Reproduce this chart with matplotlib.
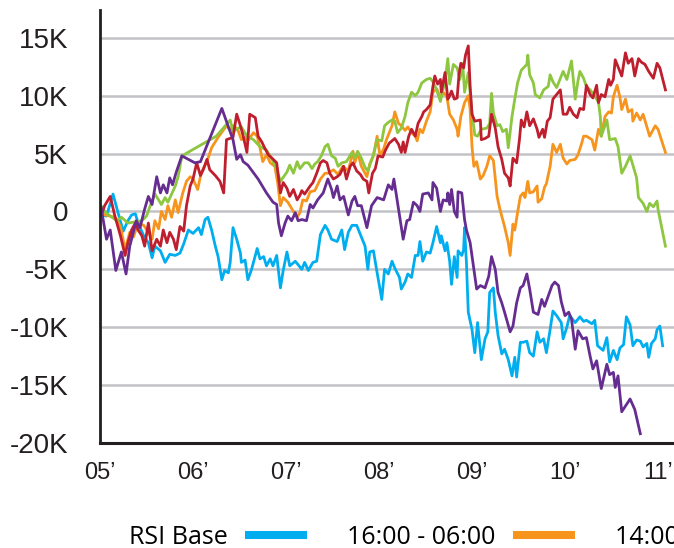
import matplotlib
matplotlib.use("Agg")
import matplotlib.pyplot as plt
from matplotlib.lines import Line2D

# ---------------- data (values in thousands) ----------------
year_ticks = [5, 6, 7, 8, 9, 10, 11]
year_labels = ["05\u2019", "06\u2019", "07\u2019", "08\u2019", "09\u2019", "10\u2019", "11\u2019"]
y_ticks = [-20, -15, -10, -5, 0, 5, 10, 15]
y_labels = ["-20K", "-15K", "-10K", "-5K", "0", "5K", "10K", "15K"]

legend_labels = ["RSI Base", "16:00 - 06:00", "14:00 - 16:00"]

t_cyan = [5.02, 5.07, 5.14, 5.19, 5.25, 5.30, 5.34, 5.38, 5.41, 5.47, 5.52, 5.56, 5.59, 5.65, 5.70,
          5.75, 5.81, 5.86, 5.90, 5.95, 6.00, 6.06, 6.09, 6.13, 6.16, 6.20, 6.24, 6.27, 6.31, 6.34,
          6.38, 6.40, 6.43, 6.47, 6.51, 6.52, 6.56, 6.59, 6.63, 6.69, 6.72, 6.76, 6.79, 6.83, 6.86,
          6.90, 6.94, 6.97, 7.01, 7.04, 7.10, 7.17, 7.20, 7.24, 7.29, 7.33, 7.37, 7.42, 7.45, 7.49,
          7.55, 7.60, 7.63, 7.67, 7.71, 7.76, 7.80, 7.85, 7.88, 7.90, 7.94, 7.98, 8.03, 8.06, 8.10,
          8.14, 8.17, 8.22, 8.24, 8.28, 8.31, 8.35, 8.39, 8.42, 8.44, 8.47, 8.51, 8.55, 8.58, 8.62,
          8.66, 8.67, 8.71, 8.73, 8.76, 8.78, 8.81, 8.84, 8.85, 8.89, 8.91, 8.92, 8.94, 8.96, 9.00,
          9.03, 9.06, 9.10, 9.14, 9.17, 9.19, 9.23, 9.25, 9.28, 9.32, 9.35, 9.39, 9.43, 9.46, 9.48,
          9.52, 9.55, 9.59, 9.62, 9.66, 9.70, 9.73, 9.77, 9.80, 9.84, 9.87, 9.91, 9.96, 9.98, 10.02,
          10.05, 10.11, 10.14, 10.16, 10.20, 10.23, 10.29, 10.32, 10.35, 10.41, 10.45, 10.48, 10.52,
          10.56, 10.59, 10.63, 10.66, 10.70, 10.73, 10.77, 10.81, 10.84, 10.88, 10.90, 10.93, 10.97,
          10.99, 11.02, 11.05]
v_cyan = [-0.3, -0.4, 1.5, 0.0, -1.7, -0.8, -0.3, -0.2, -1.0, -2.1, -2.7, -4.0, -3.0, -3.4, -4.4,
          -3.7, -3.8, -3.6, -2.8, -1.6, -1.9, -1.4, -2.0, -0.7, -0.5, -1.6, -3.0, -3.9, -5.9, -5.1,
          -5.3, -4.4, -1.4, -2.4, -3.6, -4.4, -4.2, -5.9, -5.0, -3.2, -4.1, -3.9, -4.7, -4.1, -4.7,
          -3.8, -6.6, -5.1, -3.5, -4.7, -4.3, -5.0, -4.4, -5.1, -4.4, -4.3, -2.0, -1.2, -1.6, -2.4,
          -2.6, -1.6, -3.3, -1.8, -1.2, -1.2, -2.0, -3.0, -5.0, -3.5, -3.4, -5.3, -7.6, -5.0, -5.4,
          -4.3, -4.9, -5.7, -6.7, -6.1, -5.4, -5.7, -3.8, -3.8, -2.6, -4.3, -3.5, -3.6, -2.7, -1.3,
          -2.7, -2.1, -3.4, -2.7, -4.3, -6.3, -3.9, -5.7, -3.4, -3.8, -3.3, -1.4, -4.4, -8.7, -10.2,
          -12.2, -9.6, -12.8, -11.0, -10.4, -7.0, -6.6, -8.7, -10.7, -12.3, -11.9, -12.8, -14.2, -12.6, -14.3,
          -11.3, -11.3, -11.2, -12.2, -12.5, -10.4, -11.3, -11.0, -12.2, -10.2, -8.6, -9.0, -9.6, -11.0, -10.0,
          -9.0, -9.6, -9.3, -9.1, -9.5, -9.4, -9.7, -9.4, -11.6, -12.0, -10.9, -13.0, -12.0,
          -12.8, -11.8, -11.5, -9.1, -9.8, -11.6, -11.1, -11.2, -11.7, -11.4, -12.6, -11.4, -11.0,
          -10.2, -9.9, -11.6]

t_orange = [5.01, 5.05, 5.11, 5.16, 5.22, 5.27, 5.32, 5.36, 5.41, 5.47, 5.52, 5.56, 5.59, 5.63, 5.66,
            5.70, 5.73, 5.77, 5.81, 5.84, 5.89, 5.93, 5.97, 6.00, 6.05, 6.09, 6.15, 6.20, 6.27, 6.36,
            6.40, 6.43, 6.48, 6.52, 6.56, 6.59, 6.65, 6.69, 6.72, 6.75, 6.79, 6.83, 6.88, 6.91, 6.94,
            6.97, 7.02, 7.08, 7.12, 7.15, 7.18, 7.22, 7.26, 7.31, 7.37, 7.42, 7.45, 7.51, 7.56, 7.61,
            7.67, 7.72, 7.74, 7.77, 7.81, 7.87, 7.90, 7.94, 7.98, 8.01, 8.05, 8.08, 8.14, 8.17, 8.21,
            8.24, 8.28, 8.31, 8.35, 8.39, 8.41, 8.44, 8.47, 8.51, 8.55, 8.58, 8.62, 8.66, 8.69, 8.73,
            8.76, 8.80, 8.84, 8.85, 8.88, 8.92, 8.96, 8.98, 9.00, 9.02, 9.05, 9.09, 9.12, 9.16, 9.19,
            9.23, 9.27, 9.30, 9.33, 9.35, 9.39, 9.41, 9.44, 9.46, 9.49, 9.52, 9.55, 9.57, 9.60, 9.62,
            9.66, 9.70, 9.71, 9.75, 9.78, 9.80, 9.84, 9.87, 9.91, 9.95, 9.98, 10.02, 10.05, 10.11,
            10.14, 10.18, 10.20, 10.23, 10.29, 10.32, 10.36, 10.39, 10.43, 10.47, 10.50, 10.52, 10.56,
            10.59, 10.61, 10.65, 10.68, 10.72, 10.73, 10.77, 10.81, 10.84, 10.91, 10.97, 11.00, 11.04,
            11.08]
v_orange = [0.3, -0.3, -0.4, -0.5, -1.3, -3.3, -1.8, -2.2, -1.0, -1.2, -1.8, -2.4, -0.8, -1.5, 0.0,
            -0.7, 0.5, -0.5, 1.0, -0.1, 1.6, 2.6, 3.0, 2.8, 1.9, 3.4, 4.3, 5.5, 6.4, 7.4,
            7.0, 7.4, 7.1, 6.2, 6.4, 6.1, 6.8, 6.5, 5.5, 4.3, 4.9, 4.2, 3.9, 2.5, 0.5,
            1.2, 0.8, 0.0, -0.5, -0.1, 1.0, 0.9, 1.7, 1.8, 2.8, 3.3, 3.3, 3.6, 3.2, 3.9,
            3.5, 5.2, 4.2, 5.1, 3.9, 3.0, 4.1, 4.8, 6.5, 4.8, 5.4, 6.2, 7.4, 8.6, 7.6,
            7.4, 7.0, 7.3, 6.8, 6.5, 6.1, 7.1, 6.8, 7.8, 8.6, 10.3, 10.6, 9.8, 10.3, 9.9,
            8.4, 7.9, 7.1, 6.5, 8.2, 9.4, 10.0, 8.8, 5.6, 3.9, 4.3, 2.8, 3.1, 3.9, 4.8,
            4.4, 1.3, 0.2, -0.7, -1.3, -2.7, -3.8, -1.1, -1.6, -0.1, 1.3, 1.6, 1.2, 2.6, 1.6,
            1.7, 2.2, 0.8, 1.1, 2.1, 2.4, 3.9, 5.8, 5.1, 5.8, 4.6, 4.1, 4.4, 4.5,
            4.9, 5.9, 6.5, 6.5, 6.2, 5.3, 7.1, 6.5, 8.2, 8.6, 8.5, 9.9, 10.9,
            9.9, 8.8, 9.7, 8.6, 8.8, 7.8, 8.5, 7.9, 8.4, 6.5, 7.4, 7.1, 6.1,
            5.1]

t_green = [5.01, 5.05, 5.11, 5.18, 5.23, 5.30, 5.38, 5.45, 5.50, 5.54, 5.59, 5.63, 5.66, 5.70, 5.73,
           5.77, 5.81, 5.84, 5.88, 6.25, 6.40, 6.43, 6.49, 6.52, 6.58, 6.65, 6.72, 6.79, 6.85, 6.90,
           6.94, 7.01, 7.04, 7.08, 7.12, 7.15, 7.20, 7.24, 7.28, 7.31, 7.34, 7.38, 7.42, 7.45, 7.49,
           7.53, 7.56, 7.60, 7.65, 7.71, 7.74, 7.77, 7.81, 7.85, 7.88, 7.94, 7.98, 8.03, 8.06, 8.10,
           8.14, 8.17, 8.20, 8.24, 8.28, 8.31, 8.35, 8.39, 8.42, 8.46, 8.51, 8.55, 8.58, 8.62, 8.66,
           8.69, 8.71, 8.74, 8.76, 8.80, 8.84, 8.87, 8.90, 8.92, 8.96, 9.00, 9.03, 9.06, 9.10, 9.16,
           9.19, 9.21, 9.23, 9.27, 9.30, 9.33, 9.37, 9.39, 9.43, 9.46, 9.49, 9.53, 9.59, 9.60, 9.62,
           9.66, 9.68, 9.73, 9.77, 9.82, 9.84, 9.87, 9.91, 9.95, 9.98, 10.02, 10.07, 10.11, 10.14,
           10.16, 10.20, 10.23, 10.27, 10.32, 10.36, 10.38, 10.39, 10.45, 10.48, 10.54, 10.57, 10.61,
           10.65, 10.70, 10.73, 10.77, 10.79, 10.84, 10.88, 10.91, 10.95, 10.99, 11.00, 11.08]
v_green = [0.5, 0.0, -0.4, -0.8, -0.5, -1.0, -0.9, -0.8, -0.4, 0.5, 1.5, 1.0, 0.6, 1.2, 0.8,
           1.5, 2.2, 3.0, 4.8, 6.5, 7.9, 6.9, 7.2, 7.3, 6.5, 6.2, 5.6, 5.3, 4.5, 3.6,
           2.6, 3.4, 4.0, 3.3, 4.3, 3.7, 4.2, 4.2, 3.7, 4.1, 4.3, 4.8, 5.6, 5.8, 4.8,
           4.6, 3.9, 4.2, 4.3, 5.1, 4.6, 5.2, 4.6, 3.8, 3.5, 4.9, 6.2, 6.1, 7.4, 7.7,
           7.9, 7.8, 6.8, 7.2, 8.2, 9.4, 10.3, 10.0, 10.3, 11.1, 11.4, 11.5, 11.2, 10.5, 9.5,
           10.6, 11.2, 13.2, 11.0, 12.7, 12.4, 11.4, 12.8, 10.3, 12.0, 8.5, 6.6, 6.5, 7.1, 7.2,
           7.6, 10.2, 8.5, 7.4, 7.5, 6.9, 7.1, 5.5, 8.2, 9.7, 11.1, 12.2, 12.7, 13.5, 11.8,
           11.1, 10.1, 9.8, 10.5, 10.8, 11.8, 11.2, 10.7, 11.5, 12.1, 11.4, 13.0, 9.7, 11.3,
           12.1, 11.5, 10.8, 10.5, 10.0, 9.4, 8.2, 6.5, 7.9, 6.2, 6.3, 5.6, 3.3,
           3.9, 4.8, 4.0, 2.9, 1.2, 0.7, 0.0, 0.7, 0.4, 0.9, 0.2, -3.0]

t_red = [5.01, 5.05, 5.11, 5.16, 5.22, 5.27, 5.30, 5.34, 5.38, 5.41, 5.45, 5.48, 5.52, 5.56, 5.61,
         5.65, 5.68, 5.72, 5.75, 5.79, 5.82, 5.86, 5.90, 5.93, 5.97, 6.00, 6.04, 6.08, 6.11, 6.15,
         6.18, 6.24, 6.29, 6.33, 6.36, 6.43, 6.47, 6.51, 6.54, 6.58, 6.61, 6.67, 6.70, 6.74, 6.77,
         6.81, 6.85, 6.90, 6.94, 6.97, 7.01, 7.04, 7.08, 7.12, 7.15, 7.17, 7.20, 7.26, 7.29, 7.33,
         7.37, 7.40, 7.44, 7.47, 7.51, 7.55, 7.58, 7.62, 7.65, 7.69, 7.72, 7.76, 7.80, 7.83, 7.87,
         7.89, 7.93, 7.96, 7.99, 8.04, 8.07, 8.11, 8.14, 8.17, 8.21, 8.24, 8.26, 8.28, 8.32, 8.35,
         8.39, 8.42, 8.46, 8.48, 8.51, 8.55, 8.58, 8.60, 8.63, 8.66, 8.67, 8.71, 8.74, 8.76, 8.78,
         8.81, 8.84, 8.86, 8.88, 8.91, 8.93, 8.96, 8.98, 9.00, 9.03, 9.09, 9.10, 9.14, 9.18, 9.21,
         9.25, 9.28, 9.32, 9.35, 9.39, 9.41, 9.44, 9.48, 9.51, 9.53, 9.56, 9.59, 9.62, 9.66, 9.70,
         9.72, 9.76, 9.78, 9.81, 9.84, 9.87, 9.91, 9.95, 9.98, 10.02, 10.05, 10.09, 10.13, 10.16,
         10.20, 10.23, 10.27, 10.30, 10.34, 10.36, 10.39, 10.43, 10.47, 10.49, 10.52, 10.54, 10.57,
         10.61, 10.65, 10.68, 10.72, 10.75, 10.79, 10.82, 10.86, 10.90, 10.95, 10.99, 11.02, 11.08]
v_red = [-0.4, 0.5, 1.3, -0.4, -2.1, -3.8, -2.7, -1.6, -1.0, -1.6, -2.1, -3.0, -1.0, -3.4, -2.4,
         -3.0, -1.6, -2.7, -1.8, -2.4, -3.3, -1.3, -1.7, 0.5, 2.2, 2.8, 4.2, 3.1, 3.6, 4.5,
         3.6, 3.1, 2.6, 1.6, 6.2, 6.4, 8.4, 7.4, 6.5, 5.1, 8.4, 8.1, 6.5, 6.0, 5.5,
         4.9, 4.6, 4.2, 1.6, 2.5, 2.0, 1.3, 1.9, 1.0, 1.4, 1.8, 1.5, 2.2, 2.5, 3.3,
         4.2, 4.4, 4.2, 3.3, 2.8, 3.0, 3.2, 3.9, 2.8, 3.9, 4.2, 3.5, 3.2, 2.8, 2.6,
         1.6, 3.3, 3.7, 4.8, 4.7, 5.3, 5.9, 6.1, 6.3, 5.8, 5.1, 6.0, 5.1, 6.5, 7.1,
         6.5, 7.6, 8.2, 8.6, 8.8, 9.2, 10.8, 11.7, 11.0, 11.4, 10.3, 12.0, 9.7, 10.0, 10.4,
         9.7, 9.8, 11.8, 12.8, 12.4, 13.5, 14.3, 10.8, 8.4, 7.8, 7.9, 6.2, 6.3, 6.5, 8.4,
         7.2, 5.6, 4.5, 3.3, 2.9, 2.2, 4.6, 4.2, 6.2, 7.9, 7.3, 8.6, 7.4, 8.0, 7.1,
         6.4, 7.1, 6.4, 7.8, 8.1, 9.7, 10.1, 10.5, 8.4, 8.4, 9.0, 8.4, 8.1, 8.9,
         8.8, 10.9, 10.1, 9.8, 10.9, 9.4, 10.1, 9.9, 11.4, 10.9, 11.4, 13.1, 12.5,
         11.7, 13.7, 12.8, 13.2, 11.7, 13.2, 12.9, 12.7, 12.1, 11.5, 12.8, 12.4, 10.5]

t_purple = [5.01, 5.07, 5.11, 5.17, 5.23, 5.28, 5.32, 5.39, 5.43, 5.48, 5.52, 5.56, 5.61, 5.65, 5.68,
            5.72, 5.75, 5.78, 5.82, 5.88, 6.02, 6.08, 6.31, 6.43, 6.47, 6.51, 6.54, 6.59, 6.70, 6.79,
            6.86, 6.90, 6.92, 6.95, 6.99, 7.02, 7.06, 7.10, 7.13, 7.17, 7.22, 7.26, 7.29, 7.34, 7.40,
            7.45, 7.49, 7.51, 7.55, 7.58, 7.62, 7.67, 7.71, 7.74, 7.77, 7.81, 7.87, 7.92, 7.98, 8.05,
            8.10, 8.14, 8.16, 8.21, 8.24, 8.26, 8.30, 8.33, 8.37, 8.41, 8.44, 8.47, 8.53, 8.57, 8.58,
            8.62, 8.66, 8.69, 8.73, 8.74, 8.76, 8.78, 8.81, 8.84, 8.85, 8.89, 8.92, 8.94, 8.98, 9.01,
            9.05, 9.09, 9.14, 9.18, 9.21, 9.25, 9.28, 9.32, 9.35, 9.41, 9.44, 9.48, 9.52, 9.55, 9.59,
            9.62, 9.66, 9.71, 9.75, 9.78, 9.82, 9.86, 9.89, 9.93, 9.96, 10.00, 10.04, 10.07, 10.11,
            10.14, 10.19, 10.23, 10.27, 10.30, 10.34, 10.39, 10.45, 10.48, 10.52, 10.54, 10.57, 10.61,
            10.70, 10.75, 10.81]
v_purple = [0.4, -2.4, -1.6, -5.1, -3.5, -5.4, -3.0, -0.8, -1.4, 0.2, 1.3, 0.6, 3.0, 1.6, 2.3,
            1.6, 2.9, 2.3, 3.4, 4.8, 4.2, 4.3, 8.9, 6.2, 4.5, 4.9, 4.3, 4.0, 2.8, 1.6,
            0.8, 0.6, -1.0, -2.1, -1.0, -0.4, -0.8, -0.1, -0.8, -0.7, -0.8, 0.6, 0.3, 1.0, 1.6,
            2.8, 1.9, 1.2, 2.2, 1.0, 1.3, -0.3, 0.9, 1.3, 0.5, 0.5, -1.4, 0.5, 1.2, 1.0,
            2.3, 1.9, 2.8, 0.2, -1.3, -2.4, -0.8, -0.7, 0.8, 0.5, 0.0, 1.5, 1.6, 1.0, 2.5,
            2.0, 0.0, 1.0, 0.9, 1.6, 0.6, 1.9, 0.0, -0.5, 1.7, 1.6, -0.7, -1.6, -2.7, -4.4,
            -6.7, -6.4, -6.6, -5.6, -3.9, -5.0, -7.0, -7.9, -8.7, -10.4, -9.9, -7.9, -6.6, -6.4, -5.4,
            -6.7, -8.7, -8.9, -7.6, -8.2, -7.3, -6.4, -6.1, -6.4, -7.8, -9.0, -8.7, -9.3, -11.9,
            -10.3, -11.0, -10.9, -12.5, -13.6, -12.9, -15.3, -13.2, -14.1, -13.9, -15.2, -14.2, -17.3,
            -16.2, -17.1, -19.2]

# ---------------- styling ----------------
C_CYAN = "#00AEEF"
C_ORANGE = "#F7941D"
C_GREEN = "#8DC63F"
C_RED = "#BE1E2D"
C_PURPLE = "#662D91"
INK = "#231F20"

W, H = 674, 548
fig = plt.figure(figsize=(W / 100, H / 100), dpi=100)
ax = fig.add_axes([100 / W, (H - 443) / H, (W - 100) / W, (443 - 10) / H])

ax.set_xlim(5.0, 5.0 + (W - 100) / 93.0)
ax.set_ylim(-20, 17.4)

lw = 2.0
ax.plot(t_cyan, v_cyan, color=C_CYAN, lw=lw, zorder=3)
ax.plot(t_orange, v_orange, color=C_ORANGE, lw=lw, zorder=4)
ax.plot(t_green, v_green, color=C_GREEN, lw=lw, zorder=5)
ax.plot(t_red, v_red, color=C_RED, lw=lw, zorder=6)
ax.plot(t_purple, v_purple, color=C_PURPLE, lw=lw, zorder=7)

ax.set_yticks(y_ticks)
ax.set_yticklabels(y_labels, fontfamily="Liberation Sans")
ax.set_xticks(year_ticks)
ax.set_xticklabels(year_labels, fontfamily="Liberation Sans")
ax.tick_params(axis="y", length=0, pad=23, labelsize=20, labelcolor=INK)
ax.tick_params(axis="x", length=0, pad=14, labelsize=17, labelcolor=INK)

ax.grid(axis="y", color="#C2C2C7", lw=1.8)
ax.grid(axis="x", visible=False)
ax.set_axisbelow(True)

for s in ("top", "right"):
    ax.spines[s].set_visible(False)
ax.spines["left"].set_linewidth(2.0)
ax.spines["left"].set_color(INK)
ax.spines["bottom"].set_linewidth(2.2)
ax.spines["bottom"].set_color(INK)
ax.spines["left"].set_zorder(8)
ax.spines["bottom"].set_zorder(8)

handles = [Line2D([], [], color=c, lw=5.8, solid_capstyle="butt")
           for c in (C_CYAN, C_ORANGE, C_GREEN)]
fig.legend(handles, legend_labels, loc="center left",
           bbox_to_anchor=(129 / W, 1 - 537 / H), ncol=3, frameon=False,
           markerfirst=False, handlelength=2.5, handletextpad=0.68,
           columnspacing=1.6, borderpad=0, borderaxespad=0,
           prop={"family": "Open Sans", "size": 18})

fig.savefig("out.png", dpi=100)
